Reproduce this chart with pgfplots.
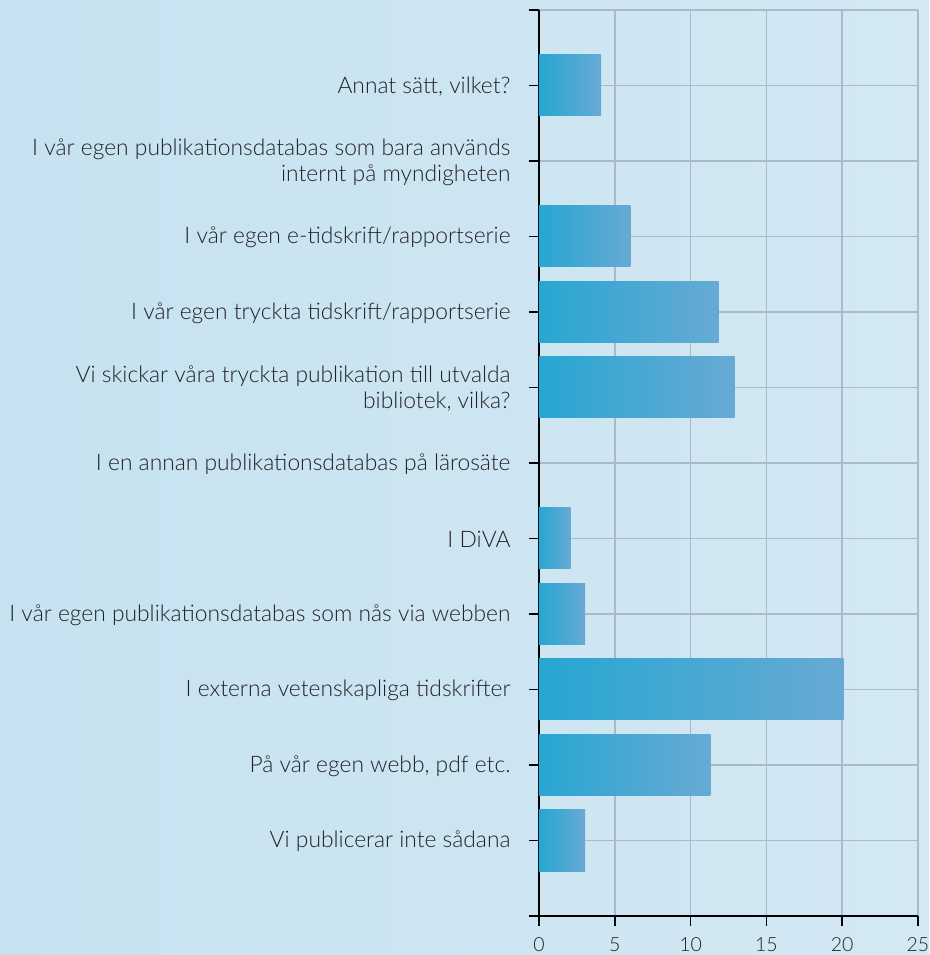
\documentclass[border=0pt]{standalone}
\usepackage{pgfplots}
\pgfplotsset{compat=1.18}
\usepackage{fontspec}
\setmainfont{Lato Light}
\definecolor{bgL}{HTML}{C6E2F0}
\definecolor{bgR}{HTML}{D3E8F3}
\definecolor{gridc}{HTML}{A9BAC8}
\definecolor{barL}{HTML}{27A6D2}
\definecolor{barR}{HTML}{67AAD4}
\definecolor{txt}{HTML}{222222}
\pgfplotsset{onebar/.style={xbar, bar width=61pt, bar shift=0pt, draw=none, left color=barL, right color=barR, forget plot}}
\begin{document}
\begin{tikzpicture}
\fill[left color=bgL, right color=bgR] (-539pt,-39pt) rectangle (390pt,916pt);
\begin{axis}[
  at={(0pt,0pt)}, anchor=south west,
  scale only axis, width=379pt, height=906pt,
  xmin=0, xmax=25, ymin=0, ymax=12,
  xtick={0,5,10,15,20,25},
  ytick={0,...,12},
  yticklabels={{},
    {Vi publicerar inte sådana},
    {På vår egen webb, pdf etc.},
    {I externa vetenskapliga tidskrifter},
    {I vår egen publikationsdatabas som nås via webben},
    {I DiVA},
    {I en annan publikationsdatabas på lärosäte},
    {Vi skickar våra tryckta publikation till utvalda\\bibliotek, vilka?},
    {I vår egen tryckta tidskrift/rapportserie},
    {I vår egen e-tidskrift/rapportserie},
    {I vår egen publikationsdatabas som bara används\\internt på myndigheten},
    {Annat sätt, vilket?},
    {}},
  axis lines=left,
  axis line style={-, black, line width=1.5pt},
  tick align=outside,
  major tick length=10pt,
  tick style={black, line width=1.5pt},
  grid=major,
  major grid style={gridc, line width=1.5pt},
  /pgf/number format/assume math mode=true,
  xticklabel style={font=\fontsize{19.5}{22}\selectfont, text=txt, yshift=-8pt},
  yticklabel style={font=\fontsize{22.8}{26}\selectfont, text=txt, align=right, xshift=-15pt, yshift=-1pt},
  clip=false,
]
\addplot[onebar] coordinates {(3.05,1)};
\addplot[onebar] coordinates {(11.3,2)};
\addplot[onebar] coordinates {(20.1,3)};
\addplot[onebar] coordinates {(3.05,4)};
\addplot[onebar] coordinates {(2.1,5)};
\addplot[onebar] coordinates {(12.9,7)};
\addplot[onebar] coordinates {(11.85,8)};
\addplot[onebar] coordinates {(6.05,9)};
\addplot[onebar] coordinates {(4.1,11)};
\end{axis}
\pgfresetboundingbox
\path[use as bounding box] (-539pt,-39pt) rectangle (390pt,916pt);
\end{tikzpicture}
\end{document}
